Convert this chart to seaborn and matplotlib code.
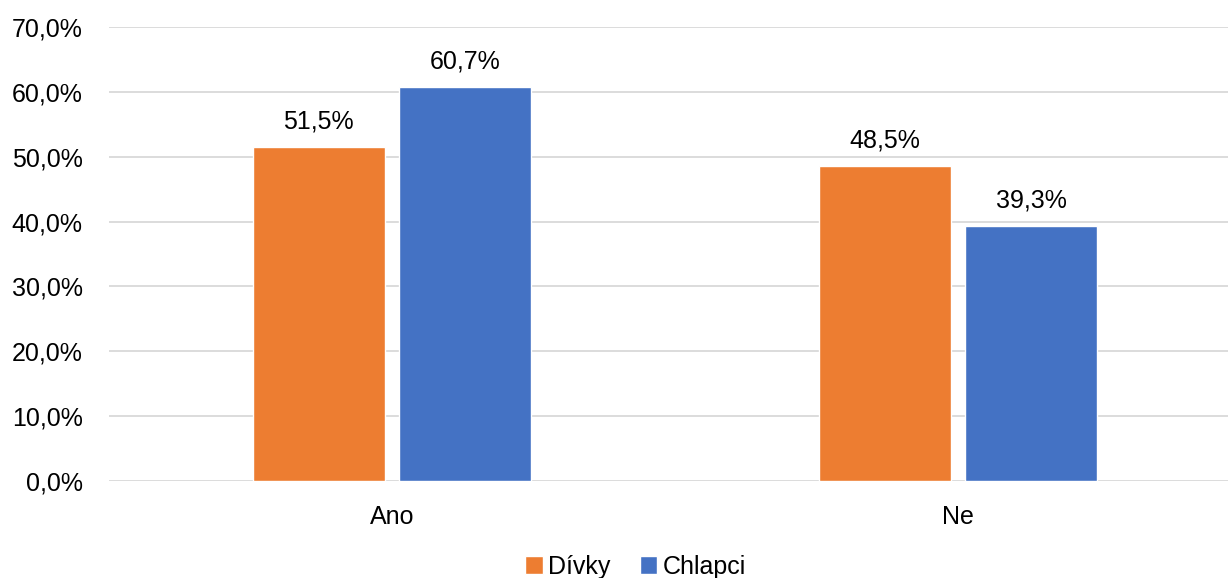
import numpy as np
import pandas as pd
import matplotlib.pyplot as plt
import seaborn as sns
from matplotlib.ticker import FuncFormatter

# DATA

categories = ['Ano', 'Ne']
series_names = ['Dívky', 'Chlapci']
divky_values = [51.5, 48.5]
chlapci_values = [60.7, 39.3]
y_ticks = [0, 10, 20, 30, 40, 50, 60, 70]

colors = ['#ED7D31', '#4472C4']

df = pd.DataFrame({
    'kategorie': categories * 2,
    'skupina': [series_names[0]] * 2 + [series_names[1]] * 2,
    'hodnota': divky_values + chlapci_values,
})

# PLOT

sns.set_style('white')
plt.rcParams['font.family'] = ['Liberation Sans', 'DejaVu Sans']
plt.rcParams['text.color'] = 'black'

fig = plt.figure(figsize=(12.28, 5.78), dpi=100)
ax = fig.add_axes([109 / 1228, 1 - 481 / 578, 1132 / 1228, 454 / 578])

sns.barplot(data=df, x='kategorie', y='hodnota', hue='skupina',
            palette=colors, width=0.518, gap=0.102, ax=ax,
            saturation=1, errorbar=None, legend=True)

ax.set_xlim(-0.5, 1.5)
ax.set_ylim(0, 70)
ax.set_yticks(y_ticks)
ax.yaxis.set_major_formatter(FuncFormatter(lambda v, p: f'{v:.1f}%'.replace('.', ',')))
ax.grid(axis='y', color='#D9D9D9', linewidth=1.3)
ax.set_axisbelow(True)
for s in ax.spines.values():
    s.set_visible(False)
ax.tick_params(axis='both', length=0, labelsize=18, colors='black')
ax.tick_params(axis='y', pad=19)
ax.tick_params(axis='x', pad=17)
ax.set_xlabel('')
ax.set_ylabel('')

# data labels
for cont in ax.containers:
    ax.bar_label(cont, labels=[f'{v:.1f}%'.replace('.', ',') for v in cont.datavalues],
                 padding=10, fontsize=18, color='black')

leg = ax.legend(loc='lower center', bbox_to_anchor=(0.465, -0.265), ncol=2,
                frameon=False, fontsize=18, handlelength=0.7, handleheight=0.7,
                handletextpad=0.2, columnspacing=1.2)
for t in leg.get_texts():
    t.set_color('black')

fig.savefig('out.png', dpi=100)
